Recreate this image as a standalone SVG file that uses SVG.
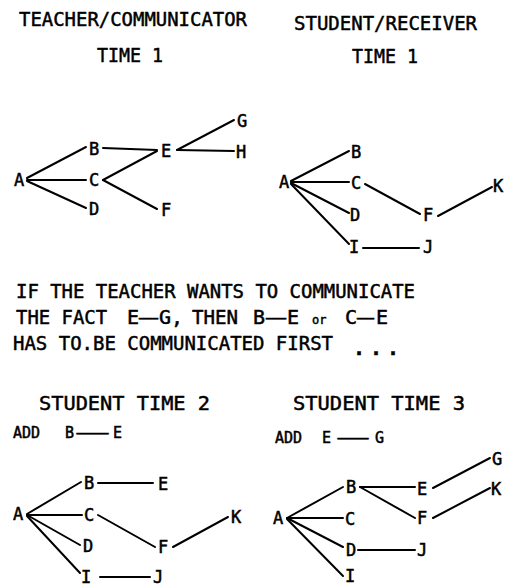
<svg xmlns="http://www.w3.org/2000/svg" width="505" height="588" viewBox="0 0 505 588">
<style>
text{font-family:"DejaVu Sans Mono","Liberation Mono",monospace;fill:#000;stroke:#000;stroke-width:0.5;}
.t{font-size:20px;}
.s{font-size:15px;}
.n{font-size:17px;text-anchor:middle;}
.or{font-size:12px;}
.dots{font-size:20px;font-weight:bold;letter-spacing:5px;}
#connectors line{stroke:#000;stroke-width:2;stroke-linecap:round;}
</style>
<rect width="505" height="588" fill="#fff"/>
<g id="titles">
<text class="t" x="19" y="26" textLength="228" lengthAdjust="spacingAndGlyphs">TEACHER/COMMUNICATOR</text>
<text class="t" x="97" y="62" textLength="66" lengthAdjust="spacingAndGlyphs">TIME 1</text>
<text class="t" x="294" y="30" textLength="183" lengthAdjust="spacingAndGlyphs">STUDENT/RECEIVER</text>
<text class="t" x="352" y="63" textLength="66" lengthAdjust="spacingAndGlyphs">TIME 1</text>
<text class="t" x="16" y="298" textLength="399" lengthAdjust="spacingAndGlyphs">IF THE TEACHER WANTS TO COMMUNICATE</text>
<text class="t" x="16" y="324" textLength="91" lengthAdjust="spacingAndGlyphs">THE FACT</text>
<text class="t" x="127" y="324">E</text>
<text class="t" x="139" y="324" textLength="19" lengthAdjust="spacingAndGlyphs">—</text>
<text class="t" x="159" y="324">G,</text>
<text class="t" x="192" y="324" textLength="46" lengthAdjust="spacingAndGlyphs">THEN</text>
<text class="t" x="253" y="324">B</text>
<text class="t" x="266" y="324" textLength="20" lengthAdjust="spacingAndGlyphs">—</text>
<text class="t" x="287" y="324">E</text>
<text class="or" x="312" y="324">or</text>
<text class="t" x="345" y="324">C</text>
<text class="t" x="357" y="324" textLength="17" lengthAdjust="spacingAndGlyphs">—</text>
<text class="t" x="376" y="324">E</text>
<text class="t" x="13" y="350" textLength="320" lengthAdjust="spacingAndGlyphs">HAS TO.BE COMMUNICATED FIRST</text>
<text class="dots" x="353" y="355">...</text>
<text class="t" x="39" y="410" textLength="171" lengthAdjust="spacingAndGlyphs">STUDENT  TIME 2</text>
<text class="t" x="293" y="410" textLength="172" lengthAdjust="spacingAndGlyphs">STUDENT  TIME 3</text>
<text class="s" x="13" y="438">ADD</text>
<text class="s" x="65" y="438">B</text>
<text class="s" x="77" y="438" textLength="31" lengthAdjust="spacingAndGlyphs">—</text>
<text class="s" x="113" y="438">E</text>
<text class="s" x="275" y="443">ADD</text>
<text class="s" x="322" y="443">E</text>
<text class="s" x="338" y="443" textLength="30" lengthAdjust="spacingAndGlyphs">—</text>
<text class="s" x="375" y="443">G</text>
</g>
<g id="connectors">
<line x1="27" y1="178" x2="86" y2="147"/>
<line x1="27" y1="180" x2="86" y2="180"/>
<line x1="27" y1="181" x2="86" y2="208"/>
<line x1="103" y1="148" x2="157" y2="150"/>
<line x1="103" y1="180" x2="157" y2="151"/>
<line x1="103" y1="180" x2="157" y2="209"/>
<line x1="177" y1="150" x2="234" y2="120"/>
<line x1="177" y1="150" x2="234" y2="151"/>
<line x1="291" y1="181" x2="349" y2="151"/>
<line x1="291" y1="182" x2="349" y2="182"/>
<line x1="291" y1="183" x2="349" y2="213"/>
<line x1="291" y1="184" x2="349" y2="244"/>
<line x1="365" y1="184" x2="420" y2="214"/>
<line x1="438" y1="216" x2="492" y2="187"/>
<line x1="363" y1="248" x2="419" y2="248"/>
<line x1="27" y1="514" x2="81" y2="482"/>
<line x1="27" y1="515" x2="82" y2="515"/>
<line x1="27" y1="515" x2="80" y2="545"/>
<line x1="27" y1="516" x2="80" y2="573"/>
<line x1="98" y1="483" x2="153" y2="483"/>
<line x1="98" y1="515" x2="155" y2="547"/>
<line x1="173" y1="547" x2="228" y2="517"/>
<line x1="100" y1="577" x2="150" y2="577"/>
<line x1="287" y1="518" x2="343" y2="487"/>
<line x1="287" y1="518" x2="343" y2="518"/>
<line x1="287" y1="518" x2="343" y2="547"/>
<line x1="287" y1="519" x2="343" y2="576"/>
<line x1="360" y1="487" x2="415" y2="487"/>
<line x1="360" y1="487" x2="415" y2="518"/>
<line x1="433" y1="488" x2="490" y2="458"/>
<line x1="433" y1="518" x2="490" y2="488"/>
<line x1="358" y1="550" x2="415" y2="550"/>
</g>
<g id="teacher-t1">
<g id="t1-A"><text class="n" x="19" y="186">A</text></g>
<g id="t1-B"><text class="n" x="94" y="155">B</text></g>
<g id="t1-C"><text class="n" x="94" y="186">C</text></g>
<g id="t1-D"><text class="n" x="94" y="215">D</text></g>
<g id="t1-E"><text class="n" x="166" y="157">E</text></g>
<g id="t1-F"><text class="n" x="166" y="216">F</text></g>
<g id="t1-G"><text class="n" x="242" y="127">G</text></g>
<g id="t1-H"><text class="n" x="241" y="158">H</text></g>
</g>
<g id="student-t1">
<g id="s1-A"><text class="n" x="284" y="188">A</text></g>
<g id="s1-B"><text class="n" x="356" y="158">B</text></g>
<g id="s1-C"><text class="n" x="356" y="189">C</text></g>
<g id="s1-D"><text class="n" x="355" y="221">D</text></g>
<g id="s1-I"><text class="n" x="354" y="253">I</text></g>
<g id="s1-F"><text class="n" x="428" y="221">F</text></g>
<g id="s1-J"><text class="n" x="428" y="253">J</text></g>
<g id="s1-K"><text class="n" x="498" y="192">K</text></g>
</g>
<g id="student-t2">
<g id="s2-A"><text class="n" x="18" y="520">A</text></g>
<g id="s2-B"><text class="n" x="89" y="489">B</text></g>
<g id="s2-C"><text class="n" x="89" y="521">C</text></g>
<g id="s2-D"><text class="n" x="88" y="552">D</text></g>
<g id="s2-I"><text class="n" x="86" y="583">I</text></g>
<g id="s2-E"><text class="n" x="163" y="490">E</text></g>
<g id="s2-F"><text class="n" x="163" y="553">F</text></g>
<g id="s2-J"><text class="n" x="158" y="583">J</text></g>
<g id="s2-K"><text class="n" x="236" y="523">K</text></g>
</g>
<g id="student-t3">
<g id="s3-A"><text class="n" x="278" y="524">A</text></g>
<g id="s3-B"><text class="n" x="351" y="493">B</text></g>
<g id="s3-C"><text class="n" x="350" y="525">C</text></g>
<g id="s3-D"><text class="n" x="351" y="556">D</text></g>
<g id="s3-I"><text class="n" x="350" y="582">I</text></g>
<g id="s3-E"><text class="n" x="422" y="495">E</text></g>
<g id="s3-F"><text class="n" x="422" y="524">F</text></g>
<g id="s3-J"><text class="n" x="422" y="556">J</text></g>
<g id="s3-G"><text class="n" x="497" y="465">G</text></g>
<g id="s3-K"><text class="n" x="496" y="495">K</text></g>
</g>
</svg>
